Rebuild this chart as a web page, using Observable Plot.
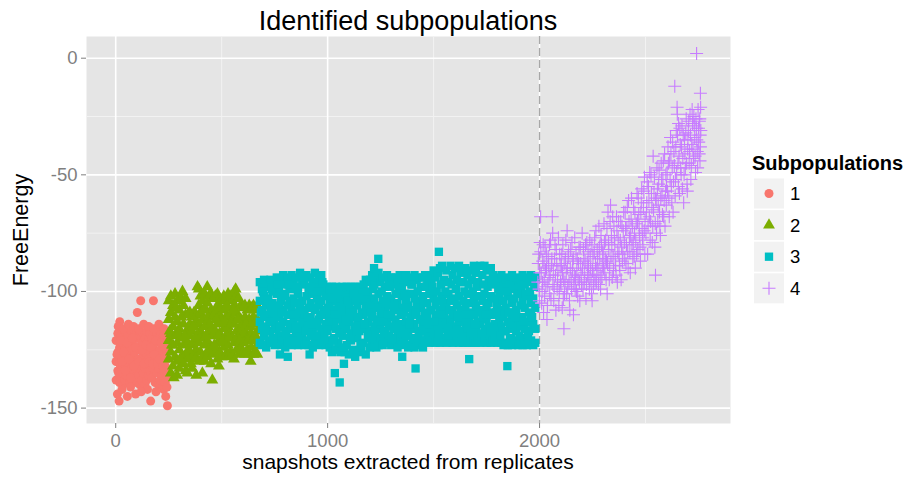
<!DOCTYPE html>
<html><head><meta charset="utf-8">
<script src="https://cdn.jsdelivr.net/npm/d3@7"></script>
<script src="https://cdn.jsdelivr.net/npm/@observablehq/plot@0.6"></script>
<style>body{margin:0;background:#fff;} #chart{width:912px;height:483px;}</style>
</head><body><div id="chart"></div>
<script>
const seriesNames = ["1", "2", "3", "4"];
const seriesColors = ["#F8766D", "#7CAE00", "#00BFC4", "#C77CFF"];
const xTicks = [0, 1000, 2000];
const xMinor = [500, 1500, 2500];
const yTicks = [0, -50, -100, -150];
const yMinor = [-25, -75, -125];
const splitX = [2000];
const titleText = "Identified subpopulations";
const xTitle = "snapshots extracted from replicates";
const yTitle = "FreeEnergy";
const legendTitle = "Subpopulations";

// rows: [snapshot, FreeEnergy values...]
const sub1 = [
[2,-121,-130,-138],[8,-144],[10,-118,-126,-134],[16,-147],[18,-124,-131,-139],[19,-113],
[26,-119,-128,-136],[34,-122,-133,-140],[42,-117,-125,-131,-138],[50,-120,-129,-136],[55,-145],
[58,-118,-127,-134],[66,-123,-131,-139],[74,-117,-125,-133],[82,-121,-128,-137],[90,-119,-126,-135],
[94,-144],[98,-118,-124,-131,-139],[102,-109],[106,-120,-129,-136],[114,-117,-125,-133,-140],[118,-104],
[122,-122,-130,-138],[130,-118,-127,-135],[138,-120,-126,-133,-140],[146,-117,-124,-131,-138],[150,-142],
[154,-121,-129,-136],[162,-118,-126,-134],[165,-147],[170,-120,-128,-137],[178,-104,-117,-125,-133],
[186,-122,-130,-139],[194,-118,-127,-135],[202,-120,-126,-133,-140],[210,-117,-125,-131,-138],
[218,-121,-129,-136],[226,-119,-127,-134,-142],[234,-124,-132,-139],[242,-129,-136,-141],[244,-149]
];
const sub1more = [
[6,-127],[14,-135],[22,-121],[30,-130],[38,-126],[46,-134],[54,-122],[62,-129],[70,-137],[78,-120],
[86,-132],[94,-124],[110,-130],[126,-125],[134,-131],[142,-123],[158,-130],[166,-124],[174,-131],
[182,-127],[190,-121],[198,-131],[206,-129],[214,-122],[222,-132],[230,-128],[238,-134],
[12,-115],[36,-116],[60,-114],[84,-115],[108,-116],[132,-114],[156,-115],[180,-116],[204,-114],[228,-116],
[30,-142],[70,-141],[120,-143],[190,-143],[236,-145]
];
const sub2 = [
[250,-104,-112,-121,-129],[260,-102,-109,-118,-126,-135],[270,-106,-115,-123,-132],[274,-137],
[280,-101,-111,-119,-128],[290,-104,-113,-122,-130,-136],[300,-108,-116,-125,-133],[310,-103,-111,-120,-128],
[315,-100],[320,-106,-114,-123,-131],[330,-103,-110,-118,-127,-134],[338,-135],[340,-110,-116,-122,-129],
[350,-109,-114,-119,-126],[360,-111,-117,-123,-128,-133],[370,-109,-115,-121,-127],[380,-110,-113,-119,-125,-136],
[386,-98],[392,-99,-106,-114,-122,-130],[400,-102,-109,-117,-126],[409,-135],[410,-104,-112,-120,-128],
[420,-101,-107,-115,-123,-130],[432,-98,-105,-113,-121,-128],[440,-102,-110,-118,-126],
[450,-101,-108,-116,-124,-131],[456,-138],[460,-103,-111,-119,-127],[470,-102,-109,-117,-125],
[480,-101,-106,-114,-122,-129],[487,-132],[490,-103,-110,-118,-126],[500,-104,-112,-120,-128],
[510,-102,-108,-116,-124],[520,-103,-111,-119,-127],[530,-101,-107,-115,-123,-128],[540,-102,-110,-118,-126],
[550,-104,-112,-120,-127],[558,-129],[560,-100,-106,-114,-122],[566,-99],[570,-102,-109,-117,-125],
[580,-103,-111,-119,-127],[590,-106,-112,-118,-124],[600,-107,-113,-119,-126],[610,-106,-111,-117,-127],
[621,-108,-114,-120,-125],[630,-106,-112,-119,-127],[637,-130],[640,-107,-113,-118,-124],
[650,-106,-111,-120,-127],[660,-108,-114,-119,-126],[668,-106,-112,-117,-123,-127]
];
const sub2more = [
[255,-117],[265,-123],[285,-107],[295,-118],[305,-129],[325,-119],[345,-125],[355,-131],[365,-115],[375,-129],
[397,-120],[415,-108],[425,-119],[437,-125],[445,-114],[465,-123],[475,-112],[485,-119],[495,-107],[505,-121],
[515,-113],[525,-106],[535,-120],[545,-114],[555,-108],[565,-121],[575,-112],[585,-121],[595,-115],[605,-122],
[615,-114],[625,-121],[635,-115],[645,-121],[655,-114],[664,-121]
];
const sub3 = [
[680,-96,-104,-113,-122],[690,-99,-108,-116,-123],[700,-95,-102,-111,-119],[710,-98,-106,-115,-124],
[720,-97,-103,-110,-121],[730,-95,-107,-117,-122],[740,-100,-105,-112,-120],[750,-96,-109,-114,-123],
[760,-94,-101,-116,-122],[770,-98,-107,-111,-119],[775,-127],[780,-95,-104,-115,-123],[790,-93,-108,-113,-121],
[800,-97,-102,-117,-124],[810,-94,-106,-110,-122],[812,-128],[820,-99,-104,-114,-120],[830,-93,-107,-116,-123],
[840,-96,-103,-112,-122],[850,-94,-109,-115,-119],[860,-98,-101,-111,-123],[870,-92,-106,-117,-122],
[880,-95,-104,-113,-120],[890,-97,-108,-110,-123],[900,-93,-102,-116,-121],[910,-99,-107,-114,-123],[915,-127],
[920,-94,-105,-111,-119],[930,-96,-101,-117,-124],[940,-92,-108,-113,-122],[950,-98,-103,-115,-120],
[960,-95,-106,-112,-123],[970,-93,-104,-116,-121],[980,-97,-109,-110,-118],[990,-100,-102,-114,-123],
[1000,-98,-107,-117,-121],[1010,-99,-105,-111,-124],[1020,-98,-101,-115,-126],[1030,-99,-108,-113,-120],
[1034,-135],[1040,-98,-104,-116,-125],[1050,-100,-106,-112,-122],[1057,-139],[1060,-99,-103,-117,-126],
[1070,-98,-109,-114,-119],[1077,-131],[1080,-100,-105,-110,-126],[1090,-98,-102,-116,-123],
[1100,-99,-107,-113,-127],[1110,-98,-104,-118,-121],[1120,-99,-108,-111,-125],[1130,-98,-103,-115,-128],
[1140,-100,-106,-112,-120],[1150,-98,-101,-117,-126],[1160,-99,-109,-114,-124],[1170,-97,-104,-110,-122],
[1180,-95,-107,-116,-127],[1190,-96,-102,-113,-119],[1200,-95,-105,-117,-124],[1210,-93,-108,-111,-123],
[1219,-90],[1220,-97,-103,-115,-121],[1230,-94,-106,-112,-124],[1239,-86],[1240,-92,-101,-116,-123],
[1250,-96,-109,-114,-120],[1260,-94,-104,-110,-123],[1270,-98,-107,-117,-122],[1280,-93,-102,-113,-121],
[1290,-95,-106,-115,-119],[1300,-94,-103,-111,-123],[1310,-97,-108,-116,-122],[1320,-94,-101,-112,-121],
[1330,-96,-105,-117,-124],[1340,-93,-107,-114,-120],[1350,-98,-102,-110,-123],[1352,-128],
[1360,-95,-109,-115,-122],[1370,-93,-104,-113,-119],[1380,-96,-106,-117,-124],[1390,-94,-101,-111,-123],
[1400,-97,-108,-116,-121],[1410,-93,-103,-114,-124],[1415,-133],[1420,-95,-106,-110,-123],
[1430,-94,-104,-117,-120],[1440,-98,-107,-112,-122],[1450,-94,-102,-115,-124],[1460,-93,-109,-113,-121],
[1470,-96,-105,-111,-119],[1480,-93,-101,-116,-122],[1490,-95,-108,-114,-121],[1500,-91,-103,-117,-120],
[1510,-94,-106,-110,-122],[1520,-92,-104,-115,-121],[1525,-83],[1530,-90,-108,-113,-122],
[1540,-89,-102,-116,-121],[1550,-95,-105,-111,-120],[1560,-91,-107,-114,-122],[1570,-96,-101,-117,-121],
[1580,-89,-104,-112,-120],[1590,-93,-109,-115,-122],[1600,-90,-103,-110,-121],[1610,-95,-106,-116,-119],
[1620,-89,-102,-113,-122],[1630,-92,-108,-117,-121],[1640,-96,-104,-111,-122],[1650,-90,-107,-114,-119],
[1660,-93,-101,-116,-122],[1668,-129],[1670,-91,-105,-112,-121],[1680,-95,-109,-115,-122],
[1690,-89,-103,-110,-121],[1700,-92,-106,-117,-122],[1710,-96,-102,-113,-120],[1720,-89,-108,-114,-122],
[1730,-93,-104,-111,-121],[1740,-89,-101,-116,-120],[1750,-91,-107,-112,-122],[1760,-95,-105,-115,-119],
[1770,-90,-102,-117,-122],[1780,-93,-109,-110,-121],[1790,-97,-103,-114,-120],[1800,-94,-106,-116,-122],
[1810,-96,-101,-112,-121],[1820,-93,-108,-115,-122],[1830,-98,-104,-111,-123],[1840,-95,-107,-117,-122],
[1848,-132],[1850,-94,-102,-113,-123],[1860,-97,-109,-116,-120],[1870,-93,-105,-110,-123],
[1880,-96,-103,-114,-122],[1890,-94,-108,-117,-121],[1900,-98,-101,-112,-123],[1910,-95,-106,-115,-122],
[1920,-93,-104,-111,-123],[1930,-97,-107,-116,-120],[1940,-94,-102,-113,-123],[1950,-96,-109,-117,-122],
[1960,-93,-105,-110,-121],[1970,-95,-103,-114,-123],[1980,-94,-107,-116,-122]
];
const sub3more = [
[685,-109],[695,-100],[705,-117],[715,-104],[725,-113],[735,-99],[745,-120],[755,-106],[765,-97],[775,-115],
[785,-109],[795,-101],[805,-118],[815,-97],[825,-110],[835,-121],[845,-105],[855,-99],[865,-116],[875,-108],
[885,-94],[895,-117],[905,-111],[915,-98],[925,-114],[935,-107],[945,-119],[955,-100],[965,-110],[975,-96],
[985,-120],[995,-108],[1005,-113],[1015,-103],[1025,-121],[1035,-110],[1045,-101],[1055,-118],[1065,-108],
[1075,-124],[1085,-112],[1095,-104],[1105,-120],[1115,-109],[1125,-101],[1135,-117],[1145,-111],[1155,-123],
[1165,-103],[1175,-114],[1185,-100],[1195,-120],[1205,-109],[1215,-99],[1225,-118],[1235,-107],[1245,-113],
[1255,-100],[1265,-118],[1275,-105],[1285,-110],[1295,-98],[1305,-120],[1315,-106],[1325,-115],[1335,-99],
[1345,-110],[1355,-118],[1365,-101],[1375,-107],[1385,-114],[1395,-97],[1405,-120],[1415,-109],[1425,-100],
[1435,-112],[1445,-117],[1455,-105],[1465,-98],[1475,-114],[1485,-108],[1495,-98],[1505,-113],[1515,-100],
[1525,-118],[1535,-97],[1545,-110],[1555,-100],[1565,-119],[1575,-108],[1585,-97],[1595,-118],[1605,-99],
[1615,-111],[1625,-96],[1635,-120],[1645,-100],[1655,-110],[1665,-97],[1675,-118],[1685,-100],[1695,-114],
[1705,-98],[1715,-109],[1725,-118],[1735,-97],[1745,-110],[1755,-98],[1765,-110],[1775,-96],[1785,-117],
[1795,-109],[1805,-99],[1815,-119],[1825,-104],[1835,-117],[1845,-100],[1855,-109],[1865,-120],[1875,-99],
[1885,-111],[1895,-101],[1905,-119],[1915,-98],[1925,-113],[1935,-101],[1945,-118],[1955,-100],[1965,-111],
[1975,-98]
];
const sub4 = [
[1992,-96],[1996,-84],[1999,-104],[2003,-79],[2005,-68],[2008,-92],[2012,-100],[2015,-87],[2019,-109],[2022,-95],
[2026,-81],[2030,-98],[2033,-90],[2037,-106],[2041,-85],[2045,-94],[2048,-101],[2052,-78],[2056,-89],[2060,-68],
[2063,-97],[2067,-104],[2071,-86],[2075,-93],[2079,-82],[2083,-99],[2087,-91],[2091,-106],[2095,-84],[2099,-96],
[2103,-89],[2107,-107],[2110,-80],[2114,-95],[2115,-116],[2118,-101],[2122,-86],[2126,-92],[2130,-74],[2133,-98],
[2137,-83],[2141,-104],[2145,-90],[2149,-95],[2153,-79],[2157,-87],[2160,-110],[2164,-93],[2168,-99],[2172,-84],
[2176,-91],[2180,-102],[2184,-88],[2188,-96],[2192,-81],[2196,-93],
[2201,-75],[2205,-99],[2209,-86],[2213,-92],[2217,-80],[2221,-97],[2225,-88],[2229,-83],[2233,-94],[2237,-78],
[2241,-90],[2245,-101],[2248,-104],[2252,-85],[2256,-93],[2260,-77],[2264,-88],[2268,-96],[2272,-82],[2276,-91],
[2280,-72],[2284,-86],[2288,-99],[2292,-80],[2296,-89],
[2300,-84],[2304,-71],[2308,-92],[2312,-78],[2316,-87],[2319,-101],[2323,-66],[2327,-82],[2331,-90],[2335,-63],
[2339,-76],[2343,-94],[2347,-85],[2351,-72],[2355,-80],[2359,-89],[2363,-68],[2367,-96],[2371,-77],[2375,-84],
[2379,-91],[2383,-70],[2387,-81],[2391,-87],[2395,-74],
[2400,-79],[2404,-66],[2408,-88],[2412,-73],[2416,-83],[2420,-61],[2424,-77],[2428,-92],[2432,-69],[2436,-80],
[2440,-86],[2444,-64],[2448,-75],[2452,-90],[2456,-71],[2460,-58],[2464,-82],[2468,-67],[2472,-76],[2476,-87],
[2480,-62],[2484,-73],[2488,-80],[2492,-57],[2495,-51],[2498,-69],
[2502,-75],[2506,-62],[2510,-84],[2514,-55],[2518,-68],[2522,-78],[2526,-50],[2530,-64],[2534,-72],[2536,-42],
[2540,-58],[2544,-81],[2547,-93],[2550,-61],[2554,-47],[2558,-70],[2562,-54],[2566,-66],[2570,-76],[2574,-45],
[2578,-59],[2582,-52],[2586,-68],[2590,-41],[2594,-57],[2598,-63],
[2602,-49],[2606,-38],[2610,-60],[2614,-44],[2618,-34],[2622,-55],[2626,-47],[2630,-66],[2634,-40],[2638,-12],
[2641,-52],[2645,-31],[2649,-21],[2650,-24],[2653,-45],[2656,-28],[2660,-58],[2664,-37],[2668,-50],[2672,-29],
[2676,-43],[2680,-62],[2684,-35],[2688,-47],[2692,-26],[2696,-54],[2699,-39],
[2702,-31],[2706,-45],[2710,-24],[2714,-52],[2718,-37],[2722,-28],[2726,-43],[2728,-25],[2732,-34],[2736,-49],
[2740,-30],[2741,2],[2744,-40],[2748,-22],[2751,-36],[2754,-27],[2757,-44],[2759,-15],[2760,-21],[2758,-33]
];
const sub4more = [
[1994,-88],[1998,-99],[2001,-92],[2006,-83],[2010,-105],[2014,-96],[2017,-80],[2021,-88],[2024,-102],[2028,-91],
[2032,-84],[2035,-112],[2039,-97],[2043,-89],[2047,-80],[2050,-93],[2054,-103],[2058,-86],[2062,-75],[2065,-91],
[2069,-98],[2073,-80],[2077,-108],[2081,-88],[2085,-95],[2089,-77],[2093,-100],[2097,-89],
[2101,-97],[2105,-84],[2108,-92],[2112,-103],[2116,-88],[2120,-96],[2124,-78],[2128,-101],[2131,-90],[2135,-85],
[2139,-96],[2143,-108],[2147,-82],[2151,-99],[2155,-91],[2159,-86],[2162,-97],[2166,-77],[2170,-94],[2174,-100],
[2178,-86],[2182,-95],[2186,-81],[2190,-104],[2194,-88],[2198,-97],
[2203,-90],[2207,-82],[2211,-96],[2215,-87],[2219,-103],[2223,-79],[2227,-93],[2231,-89],[2235,-99],[2239,-84],
[2243,-95],[2247,-80],[2250,-91],[2254,-98],[2258,-83],[2262,-95],[2266,-74],[2270,-90],[2274,-86],[2278,-97],
[2282,-81],[2286,-93],[2290,-76],[2294,-94],[2298,-83],
[2302,-90],[2306,-79],[2310,-86],[2314,-95],[2318,-73],[2321,-88],[2325,-79],[2329,-95],[2333,-70],[2337,-85],
[2341,-80],[2345,-68],[2349,-91],[2353,-77],[2357,-86],[2361,-93],[2365,-74],[2369,-83],[2373,-70],[2377,-89],
[2381,-78],[2385,-95],[2389,-72],[2393,-84],[2397,-66],
[2402,-86],[2406,-73],[2410,-80],[2414,-64],[2418,-90],[2422,-70],[2426,-83],[2430,-76],[2434,-60],[2438,-72],
[2442,-79],[2446,-85],[2450,-66],[2454,-78],[2458,-84],[2462,-70],[2466,-60],[2470,-73],[2474,-81],[2478,-66],
[2482,-56],[2486,-77],[2490,-64],[2494,-74],[2497,-84],
[2504,-66],[2508,-53],[2512,-72],[2516,-61],[2520,-49],[2524,-70],[2528,-58],[2532,-79],[2538,-65],[2542,-51],
[2546,-71],[2548,-60],[2552,-75],[2556,-56],[2560,-63],[2564,-48],[2568,-72],[2572,-60],[2576,-52],[2580,-67],
[2584,-44],[2588,-61],[2592,-72],[2596,-50],[2599,-55],
[2604,-57],[2608,-45],[2612,-68],[2616,-52],[2620,-41],[2624,-62],[2628,-36],[2632,-53],[2636,-46],[2640,-59],
[2643,-38],[2647,-49],[2651,-33],[2655,-55],[2658,-42],[2662,-30],[2666,-47],[2670,-38],[2674,-56],[2678,-33],
[2682,-50],[2686,-41],[2690,-32],[2694,-45],[2697,-57],
[2700,-35],[2704,-27],[2708,-40],[2712,-33],[2716,-46],[2720,-22],[2724,-39],[2730,-29],[2734,-42],[2738,-26],
[2742,-35],[2746,-47],[2750,-30],[2753,-41],[2756,-26],[2759,-38],[2761,-31]
];

const toPoints = rows => rows.flatMap(([x, ...ys]) => ys.map(y => ({x, y})));
const plusSymbol = {draw(ctx) { const h = 6.5; ctx.moveTo(-h, 0); ctx.lineTo(h, 0); ctx.moveTo(0, -h); ctx.lineTo(0, h); }};
const groups = [
  {rows: sub1.concat(sub1more), symbol: "circle", r: 4.5},
  {rows: sub2.concat(sub2more), symbol: "triangle", r: 4.4},
  {rows: sub3.concat(sub3more), symbol: "square", r: 4.7},
  {rows: sub4.concat(sub4more), symbol: plusSymbol, r: 4.5}
];

const dotMarks = groups.map((g, i) => i === 3
  ? Plot.dot(toPoints(g.rows), {x: "x", y: "y", symbol: g.symbol, r: g.r, fill: "none", stroke: seriesColors[i], strokeWidth: 1.1})
  : Plot.dot(toPoints(g.rows), {x: "x", y: "y", symbol: g.symbol, r: g.r, fill: seriesColors[i], stroke: "none"}));

const plot = Plot.plot({
  width: 912, height: 483,
  marginLeft: 86, marginRight: 182, marginTop: 36, marginBottom: 60,
  x: {domain: [-137.8, 2901], label: null},
  y: {domain: [-156.6, 9.3], label: null},
  style: {fontFamily: "'Liberation Sans', Arial, sans-serif", background: "white", color: "#7F7F7F"},
  marks: [
    Plot.frame({fill: "#E5E5E5", stroke: "none"}),
    Plot.ruleX(xMinor, {stroke: "#F2F2F2", strokeWidth: 1}),
    Plot.ruleY(yMinor, {stroke: "#F2F2F2", strokeWidth: 1}),
    Plot.ruleX(xTicks, {stroke: "white", strokeWidth: 1.6}),
    Plot.ruleY(yTicks, {stroke: "white", strokeWidth: 1.6}),
    Plot.ruleX(splitX, {stroke: "#A8A8A8", strokeWidth: 1.4, strokeDasharray: "8,4"}),
    ...dotMarks,
    Plot.axisX({ticks: xTicks, tickSize: 5, tickPadding: 5, fontSize: 18.5, tickFormat: d => String(d), label: null}),
    Plot.axisY({ticks: yTicks, tickSize: 5, tickPadding: 4, fontSize: 18.5, tickFormat: d => String(d), label: null})
  ]
});
document.getElementById("chart").appendChild(plot);

const svg = d3.select(plot);
svg.append("text").attr("x", 408).attr("y", 29.5).attr("text-anchor", "middle")
  .attr("font-size", 27).attr("fill", "#000").text(titleText);
svg.append("text").attr("x", 408).attr("y", 469).attr("text-anchor", "middle")
  .attr("font-size", 21).attr("fill", "#000").text(xTitle);
svg.append("text").attr("transform", "translate(28,230) rotate(-90)").attr("text-anchor", "middle")
  .attr("font-size", 21.5).attr("fill", "#000").text(yTitle);

const lg = svg.append("g").attr("text-anchor", "start");
lg.append("text").attr("x", 752).attr("y", 169.5).attr("font-size", 20).attr("font-weight", "bold")
  .attr("text-anchor", "start").attr("fill", "#000").text(legendTitle);
const legendPaths = [
  d3.symbol(d3.symbolCircle, Math.PI * 4.5 * 4.5)(),
  d3.symbol(d3.symbolTriangle, Math.PI * 4.4 * 4.4)(),
  d3.symbol(d3.symbolSquare, Math.PI * 4.7 * 4.7)(),
  "M-6.5,0H6.5M0,-6.5V6.5"
];
seriesNames.forEach((name, i) => {
  const top = 178.5 + i * 31.6;
  lg.append("rect").attr("x", 754).attr("y", top).attr("width", 30).attr("height", 30).attr("fill", "#F2F2F2");
  const p = lg.append("path").attr("d", legendPaths[i]).attr("transform", `translate(769,${top + 15})`);
  if (i === 3) p.attr("fill", "none").attr("stroke", seriesColors[i]).attr("stroke-width", 1.1);
  else p.attr("fill", seriesColors[i]);
  lg.append("text").attr("x", 790).attr("y", top + 15).attr("dy", "0.35em").attr("font-size", 18.5)
    .attr("text-anchor", "start").attr("fill", "#000").text(name);
});
</script>
</body></html>
